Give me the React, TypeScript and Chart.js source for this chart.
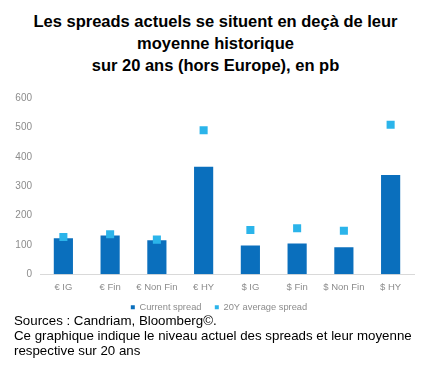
import React, { useEffect, useRef } from "react";
import { Chart, registerables } from "chart.js";

Chart.register(...registerables);

const categories = ["€ IG", "€ Fin", "€ Non Fin", "€ HY", "$ IG", "$ Fin", "$ Non Fin", "$ HY"];
const currentSpread = [123, 132, 116, 366, 98, 105, 92, 338];
const averageSpread = [127, 136, 118, 490, 151, 157, 148, 509];
const titleLines = [
  "Les spreads actuels se situent en deçà de leur",
  "moyenne historique",
  "sur 20 ans (hors Europe), en pb",
];
const FONT = "'Liberation Sans', Arial, Helvetica, sans-serif";

const legendShift = {
  id: "legendShift",
  afterLayout(chart: any) {
    if (chart.legend) {
      chart.legend.left += 24;
      chart.legend.width -= 24;
    }
  },
};

export default function App() {
  const ref = useRef<HTMLCanvasElement | null>(null);
  useEffect(() => {
    document.body.style.margin = "0";
    const ctx = ref.current!;
    const chart = new Chart(ctx, {
      type: "bar",
      data: {
        labels: categories,
        datasets: [
          {
            type: "bar",
            label: "Current spread    ",
            data: currentSpread,
            backgroundColor: "#0a6fbd",
            barPercentage: 0.82,
            categoryPercentage: 0.5,
            order: 2,
          },
          {
            type: "line",
            label: "20Y average spread",
            data: averageSpread,
            showLine: false,
            pointStyle: "rect",
            pointRadius: 5.7,
            pointHoverRadius: 5.7,
            backgroundColor: "#2bb4ea",
            borderColor: "#2bb4ea",
            borderWidth: 0,
            order: 1,
          },
        ],
      },
      plugins: [legendShift],
      options: {
        animation: false,
        responsive: false,
        maintainAspectRatio: false,
        layout: { padding: { left: 0, right: 17, top: 18, bottom: 0 } },
        plugins: {
          title: { display: false },
          legend: {
            position: "bottom",
            labels: {
              boxWidth: 4,
              boxHeight: 4,
              padding: 3,
              color: "#8c8c8c",
              font: { family: FONT, size: 9.3 },
              sort: (a: any, b: any) => a.datasetIndex - b.datasetIndex,
            },
          },
          tooltip: { enabled: false },
        },
        scales: {
          x: {
            grid: { display: false, drawTicks: false },
            border: { display: true, color: "#d9d9d9" },
            ticks: { color: "#8c8c8c", font: { family: FONT, size: 9.5 }, padding: 7, maxRotation: 0 },
          },
          y: {
            min: 0,
            max: 600,
            grid: { display: false, drawTicks: false },
            border: { display: false },
            ticks: { stepSize: 100, color: "#8c8c8c", font: { family: FONT, size: 10 }, padding: 8 },
            afterFit: (s: any) => {
              s.width = 40;
            },
          },
        },
      },
    } as any);
    return () => chart.destroy();
  }, []);
  return (
    <div style={{ position: "relative", width: 431, height: 374, background: "#fff" }}>
      <div
        style={{
          position: "absolute",
          left: 0,
          top: 10,
          width: 431,
          textAlign: "center",
          fontFamily: FONT,
          fontWeight: "bold",
          fontSize: 16.5,
          lineHeight: "22px",
          color: "#000",
        }}
      >
        {titleLines.map((t, i) => (
          <div key={i}>{t}</div>
        ))}
      </div>
      <canvas ref={ref} width={431} height={242} style={{ position: "absolute", left: 0, top: 80 }} />
      <div
        style={{
          position: "absolute",
          left: 14,
          top: 313,
          width: 415,
          fontFamily: FONT,
          fontSize: 13.3,
          lineHeight: "15px",
          color: "#000",
        }}
      >
        Sources : Candriam, Bloomberg©.
        <br />
        Ce graphique indique le niveau actuel des spreads et leur moyenne
        <br />
        respective sur 20 ans
      </div>
    </div>
  );
}
